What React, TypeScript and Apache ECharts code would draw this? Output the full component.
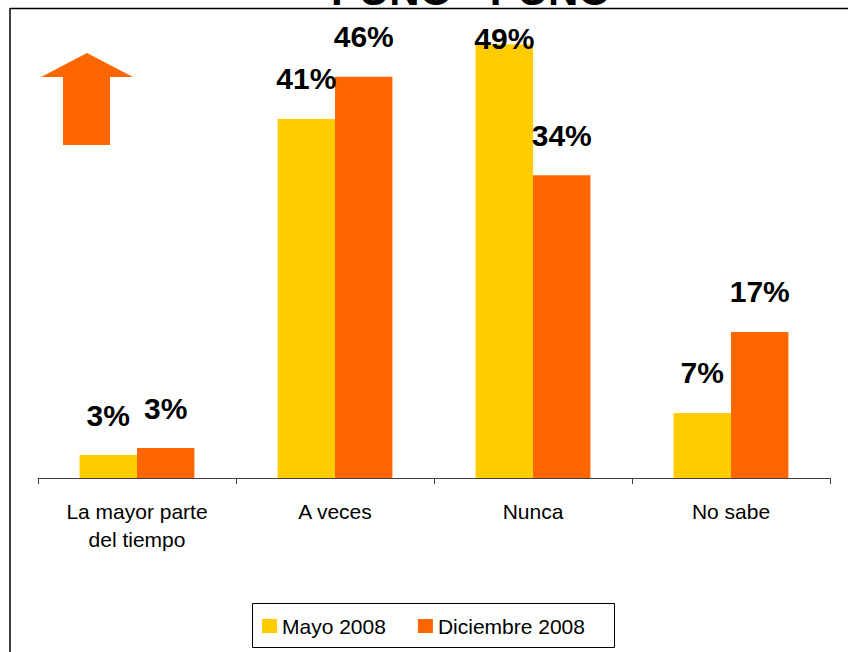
import React, { useEffect, useRef } from "react";
import * as echarts from "echarts";

const titleText = "PUNO - PUNO";
const categories = ["La mayor parte\ndel tiempo", "A veces", "Nunca", "No sabe"];
const seriesNames = ["Mayo 2008", "Diciembre 2008"];
const mayo2008 = [2.6, 40.8, 49.3, 7.4];
const diciembre2008 = [3.4, 45.6, 34.4, 16.6];
const colors = ["#FFCC00", "#FF6600"];

const FONT = "'Liberation Sans', Arial, Helvetica, sans-serif";

export default function App() {
  const ref = useRef<HTMLDivElement>(null);

  useEffect(() => {
    if (!ref.current) return;
    const chart = echarts.init(ref.current, null, { renderer: "svg" });

    const labelCfg = {
      show: true,
      position: "top",
      distance: 25,
      color: "#000",
      fontSize: 30,
      fontWeight: "bold",
      fontFamily: FONT,
      formatter: (p: any) => Math.round(p.value) + "%",
    };

    const mayoData = mayo2008.map((v, i) =>
      i === 2 ? { value: v, label: { offset: [0, 34] } } : v
    );

    chart.setOption({
      animation: false,
      backgroundColor: "#fff",
      grid: { left: 38, right: 18, top: 38, bottom: 174, containLabel: false },
      xAxis: {
        type: "category",
        data: categories,
        axisLine: { show: true, lineStyle: { color: "#404040", width: 1 } },
        axisTick: { show: true, length: 6, lineStyle: { color: "#404040" } },
        axisLabel: {
          interval: 0,
          margin: 19,
          color: "#000",
          fontSize: 21,
          lineHeight: 28,
          fontFamily: FONT,
        },
      },
      yAxis: { type: "value", min: 0, max: 50, show: false, splitLine: { show: false } },
      legend: {
        data: seriesNames,
        left: 262,
        top: 615,
        padding: 0,
        itemWidth: 15,
        itemHeight: 14,
        itemGap: 32,
        icon: "rect",
        textStyle: { fontSize: 21, lineHeight: 22, color: "#000", fontFamily: FONT },
      },
      series: [
        {
          name: seriesNames[0],
          type: "bar",
          data: mayoData,
          itemStyle: { color: colors[0] },
          barGap: "0%",
          barCategoryGap: "42%",
          label: labelCfg,
        },
        {
          name: seriesNames[1],
          type: "bar",
          data: diciembre2008,
          itemStyle: { color: colors[1] },
          barGap: "0%",
          barCategoryGap: "42%",
          label: labelCfg,
        },
      ],
      graphic: [
        {
          type: "text",
          x: 471,
          y: -10,
          style: {
            text: titleText,
            fontSize: 42,
            fontWeight: "bold",
            fontFamily: FONT,
            fill: "#000",
            align: "center",
            verticalAlign: "middle",
          },
        },
        {
          type: "line",
          shape: { x1: 10, y1: 8.5, x2: 848, y2: 8.5 },
          style: { stroke: "#000", lineWidth: 1.5 },
        },
        {
          type: "line",
          shape: { x1: 10, y1: 8, x2: 10, y2: 652 },
          style: { stroke: "#000", lineWidth: 1.5 },
        },
        {
          type: "polygon",
          shape: {
            points: [
              [87, 53],
              [133, 77],
              [110, 77],
              [110, 145],
              [63, 145],
              [63, 77],
              [41, 77],
            ],
          },
          style: { fill: "#FF6600" },
        },
        {
          type: "rect",
          shape: { x: 252.5, y: 603.5, width: 362, height: 44 },
          style: { fill: "none", stroke: "#000", lineWidth: 1 },
        },
      ],
    });

    return () => chart.dispose();
  }, []);

  return (
    <div
      ref={ref}
      style={{ position: "fixed", left: 0, top: 0, width: 848, height: 652, background: "#fff" }}
    />
  );
}
